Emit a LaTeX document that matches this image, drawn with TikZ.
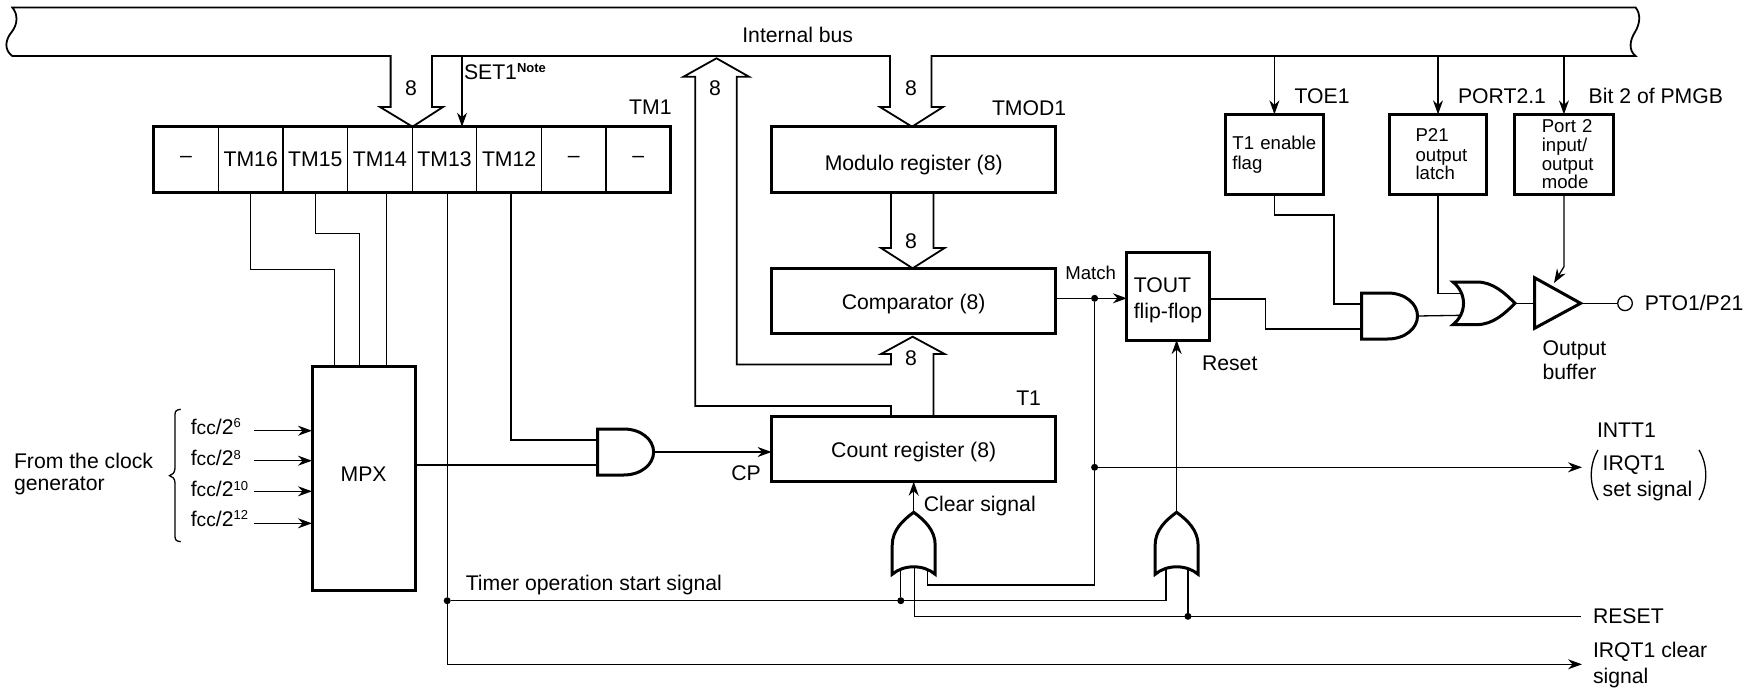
\documentclass[tikz,border=0pt]{standalone}
\usepackage{fontspec}
\setmainfont{Liberation Sans}
\usetikzlibrary{arrows.meta}
\newcommand{\bodyfont}{\fontsize{10.6}{12.7}\selectfont}
\newcommand{\smallfont}{\fontsize{9.3}{9.8}\selectfont}
\newcommand{\supfont}{\fontsize{6.5}{7}\selectfont}
\newcommand{\fccdiv}[1]{f{\fontsize{9.6}{10}\selectfont cc}/2\raisebox{3.4pt}{\supfont #1}}

\tikzset{
	every node/.style={font=\bodyfont, inner sep=0pt, outer sep=0pt},
	thinline/.style={line width=0.65pt},
	thickline/.style={line width=1.5pt},
	busline/.style={line width=0.9pt},
	cell/.style={draw, thinline, rectangle, minimum width=32.3pt, minimum height=32.8pt},
	regbox/.style={draw, thickline, rectangle, minimum width=142.1pt, minimum height=32.8pt},
	flagbox/.style={draw, thickline, rectangle, minimum height=39.85pt, font=\smallfont, align=left},
	jointdot/.style={circle, fill=black, minimum size=3.5pt},
	andgate/.pic={
		\draw [thickline] (0,-23) -- (26,-23) .. controls (44,-23) and (56,-12) .. (56,0) .. controls (56,12) and (44,23) .. (26,23) -- (0,23) -- cycle;
		\coordinate (-ina) at (0,-12);
		\coordinate (-inb) at (0,13);
		\coordinate (-out) at (56,0);
	},
	orgate/.pic={
		\draw [thickline] (0,-21.3) -- (24,-21.3) .. controls (40,-21.3) and (52,-10) .. (62,0) .. controls (52,10) and (40,21.3) .. (24,21.3) -- (0,21.3) .. controls (14,10) and (14,-10) .. (0,-21.3) -- cycle;
		\coordinate (-ina) at (7,-10);
		\coordinate (-inb) at (9,12);
		\coordinate (-out) at (62,0);
	},
	orgateup/.pic={
		\draw [thickline] (-21.5,0) -- (-21.5,-29) .. controls (-21.5,-44) and (-11,-54) .. (0,-62) .. controls (11,-54) and (21.5,-44) .. (21.5,-29) -- (21.5,0) .. controls (10,-10) and (-10,-10) .. (-21.5,0) -- cycle;
		\coordinate (-out) at (0,-62);
	},
}

\begin{document}
\begin{tikzpicture}[x=0.5pt, y=-0.5pt, >={Stealth[length=7pt, width=5pt]}, thinline]
	\useasboundingbox (0,0) rectangle (1759,690);

	% internal bus
	\draw [busline] (12.3,7.5) -- (1635.6,7.5) .. controls (1641,14) and (1640,24) .. (1635,32) .. controls (1630,40) and (1628,50) .. (1635.6,56)
		-- (931.5,56) -- (931.5,107) -- (943,107) -- (912,126.7) -- (880,107) -- (890,107) -- (890,56)
		-- (432,56) -- (432,107) -- (443,107) -- (412.5,126.7) -- (380,107) -- (390.6,107) -- (390.6,56)
		-- (12.3,56) .. controls (4,50) and (5,40) .. (11.7,32) .. controls (18,24) and (18,14) .. (12.3,7.5) -- cycle;
	\node (buslabel) at (797.7,35) {Internal bus};
	\node (eighta) at (411,88) {8};
	\node (eightb) at (715,88) {8};
	\node (eightc) at (911,88) {8};
	\node (eightd) at (911,241.7) {8};
	\node (eighte) at (911,357.7) {8};
	\coordinate (busy) at (0,56);

	% TM1 register
	\node[cell] (tmx) at (186.1,159.5) {--};
	\node[cell] (tm16) at (250.7,159.5) {TM16};
	\node[cell] (tm15) at (315.3,159.5) {TM15};
	\node[cell] (tm14) at (379.9,159.5) {TM14};
	\node[cell] (tm13) at (444.5,159.5) {TM13};
	\node[cell] (tm12) at (509.1,159.5) {TM12};
	\node[cell] (tmy) at (573.7,159.5) {--};
	\node[cell] (tmz) at (638.3,159.5) {--};
	\draw [thickline] (tmx.north west) rectangle (tmz.south east);
	\node [anchor=east] (tmone) at (671.6,107) {TM1};
	\coordinate (setone) at (462,126.7);
	\draw [->] (busy -| setone) -- (setone);
	\node [anchor=west] (setlabel) at (464,72) {SET1\raisebox{3.4pt}{\supfont\bfseries Note}};

	% registers in the middle
	\node[regbox] (modulo) at (913.7,159.5) {\rule{0pt}{12.7pt}Modulo register (8)};
	\node[regbox] (compare) at (913.7,300.8) {\rule{0pt}{11.1pt}Comparator (8)};
	\node[regbox] (count) at (913.7,448.9) {\rule{0pt}{11.1pt}Count register (8)};
	\node [anchor=west] (tmodone) at (992,108) {TMOD1};
	\node [anchor=east] (tone) at (1041,398) {T1};
	\node (cp) at (746,473) {CP};
	\draw [busline] (891,192.3) -- (891,248) -- (881,248) -- (912.6,268.3) -- (944.6,248) -- (933.4,248) -- (933.4,192.3);
	\draw [busline] (891,416) -- (891,406) -- (695.3,406) -- (695.3,76.7) -- (683.5,76.7) -- (716.5,58.3) -- (749,76.7) -- (736.8,76.7) -- (736.8,364.5) -- (891,364.5) -- (891,354) -- (881,354) -- (912.6,336.7) -- (944.6,354) -- (933.4,354) -- (933.4,416);

	% MPX and its clock inputs
	\node[draw, thickline, rectangle, minimum width=51.65pt, minimum height=112pt] (mpx) at (363.65,478.7) {\rule[-4.7pt]{0pt}{0pt}MPX};
	\coordinate (mpxa) at (334.5,366.7);
	\coordinate (mpxb) at (359.7,366.7);
	\coordinate (mpxc) at (386.6,366.7);
	\draw (tm16.south) -- ++(0,77) -| (mpxa);
	\draw (tm15.south) -- ++(0,41) -| (mpxb);
	\draw (tm14.south -| mpxc) -- (mpxc);
	\node [anchor=west, align=left] (fromclock) at (14,474) {From the clock\\[-2pt]generator};
	\draw (180.7,409.3) .. controls (176,410) and (175,411) .. (175,415) -- (175,468) .. controls (175,473) and (172,475) .. (169.5,475.7) .. controls (172,476.5) and (175,478) .. (175,483) -- (175,536) .. controls (175,540) and (176,541) .. (180.7,541.7);
	\node [anchor=west] (fcca) at (190.8,426.5) {\fccdiv{6}};
	\node [anchor=west] (fccb) at (190.8,458) {\fccdiv{8}};
	\node [anchor=west] (fccc) at (190.8,489) {\fccdiv{10}};
	\node [anchor=west] (fccd) at (190.8,518.5) {\fccdiv{12}};
	\coordinate (ina) at (254.2,430.7);
	\coordinate (inb) at (254.2,460.7);
	\coordinate (inc) at (254.2,491.3);
	\coordinate (ind) at (254.2,523.3);
	\draw [->] (ina) -- (ina -| mpx.west);
	\draw [->] (inb) -- (inb -| mpx.west);
	\draw [->] (inc) -- (inc -| mpx.west);
	\draw [->] (ind) -- (ind -| mpx.west);

	% count gate
	\pic (anda) at (597.6,452) {andgate};
	\draw (tm12.south -| 511,0) |- (anda-ina);
	\draw (mpx.east |- anda-inb) -- (anda-inb);
	\draw [->] (anda-out) -- (count.west |- anda-out);

	% match, clear and reset
	\node[jointdot] (matchdot) at (1094.6,298.3) {};
	\node[jointdot] (intdot) at (1094.6,467.3) {};
	\node[jointdot] (startdot) at (447.2,600.7) {};
	\node[jointdot] (timedot) at (900.8,600.7) {};
	\node[jointdot] (resetdot) at (1187.9,616.3) {};
	\node[draw, thickline, rectangle, minimum width=41.1pt, minimum height=43.85pt, align=left] (tout) at (1168,296.2) {\rule{0pt}{11.6pt}TOUT\\[0.6pt]flip-flop};
	\node (matchlabel) at (1090.7,272.7) {\smallfont Match};
	\node [anchor=west] (resetlabel) at (1202,363.5) {Reset};
	\node [anchor=west] (clearlabel) at (923.8,506) {Clear signal};
	\node [anchor=west] (timerlabel) at (465.8,585.3) {Timer operation start signal};
	\pic (ora) at (913.7,574.3) {orgateup};
	\pic (orb) at (1176.6,574.3) {orgateup};
	\coordinate (oraa) at (900.8,571);
	\coordinate (orab) at (914.8,567);
	\coordinate (orac) at (927.2,571);
	\coordinate (orba) at (1166,568);
	\coordinate (orbb) at (1187.9,570);
	\coordinate (intend) at (1582,467.3);
	\coordinate (resetend) at (1580.6,616.3);
	\coordinate (clearend) at (1582,664.3);
	\draw [->] (compare.east |- matchdot) -- (matchdot -| tout.west);
	\draw (matchdot) -- (intdot) -- ++(0,117.7) -| (orac);
	\draw [->] (intdot) -- (intend);
	\draw [->] (ora-out) -- (count.south);
	\draw [->] (orb-out) -- (orb-out |- tout.south);
	\draw (tm13.south -| startdot) -- (startdot) -- (startdot |- clearend);
	\draw [->] (startdot |- clearend) -- (clearend);
	\draw (startdot) -| (orba);
	\draw (timedot) -- (oraa);
	\draw (orab) |- (resetend);
	\draw (resetdot) -- (orbb);

	% port latches and output
	\node[flagbox, minimum width=49.4pt, text width=42pt, inner xsep=3.7pt] (tflag) at (1274.4,154.2) {T1 enable\\[0.2pt]flag};
	\node[flagbox, minimum width=48.85pt, text width=22.45pt] (platch) at (1438,154.2) {P21\\[0.2pt]\mbox{output}\\[-0.6pt]latch};
	\node[flagbox, minimum width=49.1pt, text width=22.1pt] (pmode) at (1563.9,154.2) {\mbox{Port 2}\\[-0.4pt]input/\\[-0.4pt]\mbox{output}\\[-0.4pt]mode};
	\draw [->] (busy -| tflag.north) -- (tflag.north);
	\draw [->] (busy -| platch.north) -- (platch.north);
	\draw [->] (busy -| pmode.north) -- (pmode.north);
	\node [anchor=west] (toelabel) at (1294.6,96) {TOE1};
	\node [anchor=west] (portlabel) at (1458,96) {PORT2.1};
	\node [anchor=west] (pmgblabel) at (1588.7,96) {Bit 2 of PMGB};
	\pic (andb) at (1361.5,316) {andgate};
	\pic (orc) at (1453,303.3) {orgate};
	\coordinate (flagjog) at (1334,215);
	\coordinate (toutout) at (1209.2,299);
	\coordinate (bufa) at (1534.5,277.7);
	\coordinate (bufb) at (1534.5,328.3);
	\coordinate (bufc) at (1580.6,303.3);
	\coordinate (bufin) at (1554,283);
	\draw (tflag.south) |- (flagjog) |- (andb-ina);
	\draw (toutout) -- ++(56.2,0) |- (andb-inb);
	\draw (platch.south) |- (orc-ina);
	\draw (andb-out) -- (orc-inb);
	\draw [thickline] (bufa) -- (bufb) -- (bufc) -- cycle;
	\draw (orc-out) -- (bufa |- orc-out);
	\draw [->] (pmode.south) -- ++(0,72.7) -- (bufin);
	\node[draw, circle, minimum size=7.3pt] (ptoend) at (1625,303.3) {};
	\draw (bufc) -- (ptoend);
	\node [anchor=west] (ptolabel) at (1644.8,303.3) {PTO1/P21};
	\node [anchor=west, align=left] (bufferlabel) at (1542.6,360) {Output\\[-0.9pt]buffer};

	% signals at the right side
	\node [anchor=west] (inttlabel) at (1597,430.7) {INTT1};
	\node [anchor=west, align=left] (setsignal) at (1602.7,478) {IRQT1\\[0.2pt]set signal};
	\draw (1598,450) .. controls (1589,465) and (1589,485) .. (1598,500);
	\draw (1699,450) .. controls (1708,465) and (1708,485) .. (1699,500);
	\node [anchor=west] (resetname) at (1593,615.7) {RESET};
	\node [anchor=west, align=left] (clearname) at (1593,665) {IRQT1 clear\\[0.2pt]signal};
\end{tikzpicture}
\end{document}
